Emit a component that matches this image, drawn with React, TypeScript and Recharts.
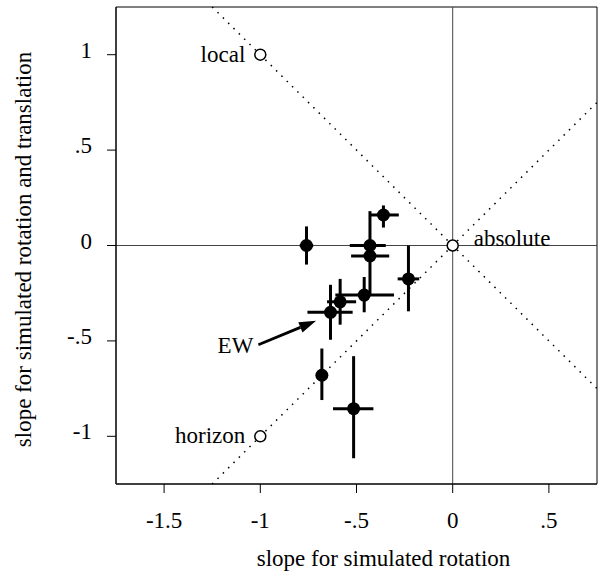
import {
  ScatterChart, Scatter, XAxis, YAxis, ErrorBar, ReferenceLine, ReferenceArea,
} from "recharts";

// measured points: slope for rotation (x) vs rotation + translation (y)
const X_VALUES = [-0.76, -0.36, -0.43, -0.43, -0.23, -0.46, -0.585, -0.635, -0.68, -0.515];
const Y_VALUES = [0.0, 0.16, 0.0, -0.055, -0.175, -0.26, -0.295, -0.35, -0.68, -0.855];
// error bars as [minus, plus]
const X_ERR = [
  [0.035, 0.035], [0.075, 0.08], [0.105, 0.082], [0.098, 0.1], [0.056, 0.056],
  [0.15, 0.155], [0.068, 0.083], [0.12, 0.115], [0.02, 0.02], [0.107, 0.103],
];
const Y_ERR = [
  [0.1, 0.1], [0.066, 0.05], [0.06, 0.18], [0.205, 0.06], [0.17, 0.175],
  [0.09, 0.095], [0.12, 0.12], [0.144, 0.144], [0.13, 0.14], [0.26, 0.275],
];

// model predictions (open circles)
const MODEL_NAMES = ["local", "horizon", "absolute"];
const MODEL_X = [-1, -1, 0];
const MODEL_Y = [1, -1, 0];

// EW annotation arrow (tail, head)
const EW_ARROW = [{ x: -1.01, y: -0.52 }, { x: -0.71, y: -0.395 }];

const X_TICKS = [-1.5, -1, -0.5, 0, 0.5];
const X_TICK_LABELS = ["-1.5", "-1", "-.5", "0", ".5"];
const Y_TICKS = [-1, -0.5, 0, 0.5, 1];
const Y_TICK_LABELS = ["-1", "-.5", "0", ".5", "1"];

const FONT = "'Liberation Serif', 'Times New Roman', serif";
const FS = 23;

const points = X_VALUES.map((x, i) => ({ x, y: Y_VALUES[i], ex: X_ERR[i], ey: Y_ERR[i] }));
const models = MODEL_NAMES.map((name, i) => ({ name, x: MODEL_X[i], y: MODEL_Y[i] }));

const fmtX = (v: number) => X_TICK_LABELS[X_TICKS.indexOf(v)] ?? String(v);
const fmtY = (v: number) => Y_TICK_LABELS[Y_TICKS.indexOf(v)] ?? String(v);

function XTick(props: any) {
  const { x, y, payload } = props;
  return (
    <text x={x} y={y} dy={33} textAnchor="middle" fontFamily={FONT} fontSize={FS} fill="#000">
      {fmtX(payload.value)}
    </text>
  );
}

function YTick(props: any) {
  const { x, y, payload } = props;
  return (
    <text x={x - 13} y={y + 3} textAnchor="end" fontFamily={FONT} fontSize={FS} fill="#000">
      {fmtY(payload.value)}
    </text>
  );
}

const dot = (p: any) => <circle cx={p.cx} cy={p.cy} r={6.5} fill="#000" />;

const modelDot = (p: any) => {
  const right = p.payload?.name === "absolute";
  return (
    <g>
      <circle cx={p.cx} cy={p.cy} r={5.5} fill="#fff" stroke="#000" strokeWidth={1.5} />
      <text
        x={right ? p.cx + 21 : p.cx - 15}
        y={right ? p.cy : p.cy + 7}
        textAnchor={right ? "start" : "end"}
        fontFamily={FONT}
        fontSize={FS}
        fill="#000"
      >
        {p.payload?.name}
      </text>
    </g>
  );
};

const arrowShape = (p: any) => {
  const { x1, y1, x2, y2 } = p;
  const ang = Math.atan2(y2 - y1, x2 - x1);
  const len = 17;
  const half = 5.5;
  const bx = x2 - len * Math.cos(ang);
  const by = y2 - len * Math.sin(ang);
  const nx = -Math.sin(ang) * half;
  const ny = Math.cos(ang) * half;
  return (
    <g>
      <line x1={x1} y1={y1} x2={bx} y2={by} stroke="#000" strokeWidth={2.8} />
      <polygon points={`${x2},${y2} ${bx + nx},${by + ny} ${bx - nx},${by - ny}`} fill="#000" />
      <text x={x1 - 5} y={y1 + 8} textAnchor="end" fontFamily={FONT} fontSize={FS} fill="#000">
        EW
      </text>
    </g>
  );
};

export default function App() {
  return (
    <div style={{ width: 599, height: 576, background: "#fff" }}>
      <style>{"body{margin:0}"}</style>
      <ScatterChart width={599} height={576} margin={{ top: 7, right: 2, bottom: 0, left: 0 }}>
        <XAxis
          type="number"
          dataKey="x"
          domain={[-1.75, 0.75]}
          ticks={X_TICKS}
          allowDataOverflow
          height={92}
          tickSize={9}
          tick={<XTick />}
          axisLine={{ stroke: "#000" }}
          tickLine={{ stroke: "#000" }}
          label={{
            content: (lp: any) => {
              const vb = lp.viewBox;
              return (
                <text x={vb.x + vb.width / 2 + 27} y={vb.y + 82} textAnchor="middle" fontFamily={FONT} fontSize={FS} fill="#000">
                  slope for simulated rotation
                </text>
              );
            },
          }}
        />
        <YAxis
          type="number"
          dataKey="y"
          domain={[-1.25, 1.25]}
          ticks={Y_TICKS}
          allowDataOverflow
          width={116}
          tickSize={9}
          tick={<YTick />}
          axisLine={{ stroke: "#000" }}
          tickLine={{ stroke: "#000" }}
          label={{
            content: (lp: any) => {
              const vb = lp.viewBox;
              const cx = 31;
              const cy = vb.y + vb.height / 2 + 4;
              return (
                <text x={cx} y={cy} transform={`rotate(-90 ${cx} ${cy})`} textAnchor="middle" fontFamily={FONT} fontSize={FS} fill="#000">
                  slope for simulated rotation and translation
                </text>
              );
            },
          }}
        />
        <ReferenceArea x1={-1.75} x2={0.75} y1={-1.25} y2={1.25} fill="none" stroke="#000" strokeWidth={1} fillOpacity={0} />
        <ReferenceLine x={0} stroke="#444" strokeWidth={1} />
        <ReferenceLine y={0} stroke="#444" strokeWidth={1} />
        <ReferenceLine
          segment={[{ x: -1.25, y: 1.25 }, { x: 0.75, y: -0.75 }]}
          stroke="#000"
          strokeWidth={1.5}
          strokeDasharray="1.5 6"
        />
        <ReferenceLine
          segment={[{ x: -1.25, y: -1.25 }, { x: 0.75, y: 0.75 }]}
          stroke="#000"
          strokeWidth={1.5}
          strokeDasharray="1.5 6"
        />
        <Scatter data={points} shape={dot} isAnimationActive={false}>
          <ErrorBar dataKey="ex" direction="x" width={0} stroke="#000" strokeWidth={3} isAnimationActive={false} />
          <ErrorBar dataKey="ey" direction="y" width={0} stroke="#000" strokeWidth={3} isAnimationActive={false} />
        </Scatter>
        <Scatter data={models} shape={modelDot} isAnimationActive={false} />
        <ReferenceLine segment={EW_ARROW} shape={arrowShape} />
      </ScatterChart>
    </div>
  );
}
